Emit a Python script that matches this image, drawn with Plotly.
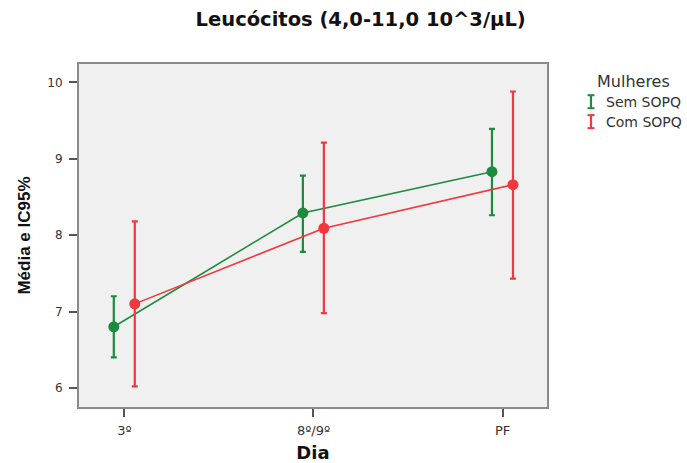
import plotly.graph_objects as go

# Leucócitos: média e IC 95% por dia, por grupo
dias = ["3º", "8º/9º", "PF"]
grupos = ["Sem SOPQ", "Com SOPQ"]
cores = ["#1d8b3e", "#f2373f"]

media_sem = [6.80, 8.29, 8.83]
lim_inf_sem = [6.40, 7.78, 8.26]
lim_sup_sem = [7.20, 8.78, 9.39]

media_com = [7.10, 8.09, 8.66]
lim_inf_com = [6.02, 6.98, 7.43]
lim_sup_com = [8.18, 9.21, 9.88]

y_ticks = [6, 7, 8, 9, 10]

series = [
    (media_sem, lim_inf_sem, lim_sup_sem),
    (media_com, lim_inf_com, lim_sup_com),
]
offsets = [-0.056, 0.055]

fig = go.Figure()
for nome, cor, off, (m, lo, hi) in zip(grupos, cores, offsets, series):
    xs = [i + off for i in range(len(dias))]
    fig.add_trace(go.Scatter(
        x=xs, y=m, name=nome, mode="lines+markers",
        line=dict(color=cor, width=1.6),
        marker=dict(color=cor, size=11),
        error_y=dict(type="data", array=[h - v for h, v in zip(hi, m)],
                     arrayminus=[v - l for v, l in zip(m, lo)],
                     color=cor, thickness=2.2, width=3),
        showlegend=False,
    ))

WIDE = "DejaVu Sans, Verdana, sans-serif"
NARROW = "Liberation Sans, Arial, sans-serif"

fig.update_layout(
    width=687, height=463,
    margin=dict(l=79, r=140, t=64, b=56),
    paper_bgcolor="white",
    plot_bgcolor="#f0f0f0",
    font=dict(family=WIDE, color="#333333", size=12),
    title=dict(text="<b>Leucócitos (4,0-11,0 10^3/μL)</b>",
               font=dict(size=19.5, color="#111111", family=WIDE),
               x=0.525, xref="container", xanchor="center",
               y=0.958, yref="container", yanchor="middle"),
    xaxis=dict(range=[-0.24, 2.235], tickvals=list(range(len(dias))), ticktext=dias,
               showgrid=False, zeroline=False, automargin=False,
               showline=True, mirror=True, linecolor="#8a8a8a", linewidth=2,
               ticks="outside", ticklen=8, tickwidth=1.5, tickcolor="#555555",
               ticklabelstandoff=2,
               tickfont=dict(size=13, color="#333333", family=WIDE),
               title=dict(text="<b>Dia</b>", font=dict(size=18, color="#111111", family=WIDE),
                          standoff=10)),
    yaxis=dict(range=[5.75, 10.24], tickvals=y_ticks,
               showgrid=False, zeroline=False, automargin=False,
               showline=True, mirror=True, linecolor="#8a8a8a", linewidth=2,
               ticks="outside", ticklen=8, tickwidth=1.5, tickcolor="#555555",
               ticklabelstandoff=4,
               tickfont=dict(size=12, color="#333333", family=WIDE),
               title=dict(text="<b>Média e IC95%</b>",
                          font=dict(size=17, color="#111111", family=NARROW), standoff=12)),
)

# Legenda com o símbolo de barra de erro
fig.add_annotation(text="Mulheres", xref="paper", yref="paper", x=1.184, y=0.948,
                   xanchor="center", yanchor="middle", showarrow=False,
                   font=dict(size=16, color="#333333", family=WIDE))
leg_y = [0.890, 0.832]
for nome, cor, yy in zip(grupos, cores, leg_y):
    fig.add_shape(type="line", xref="paper", yref="paper", xsizemode="pixel", ysizemode="pixel",
                  xanchor=1.094, yanchor=yy, x0=0, x1=0, y0=-6.5, y1=6.5,
                  line=dict(color=cor, width=2.2))
    for cy in (-6.5, 6.5):
        fig.add_shape(type="line", xref="paper", yref="paper", xsizemode="pixel", ysizemode="pixel",
                      xanchor=1.094, yanchor=yy, x0=-3.5, x1=3.5, y0=cy, y1=cy,
                      line=dict(color=cor, width=2))
    fig.add_annotation(text=nome, xref="paper", yref="paper", x=1.122, y=yy,
                       xanchor="left", yanchor="middle", showarrow=False,
                       font=dict(size=14, color="#333333", family=WIDE))

fig.write_html("out.html")
